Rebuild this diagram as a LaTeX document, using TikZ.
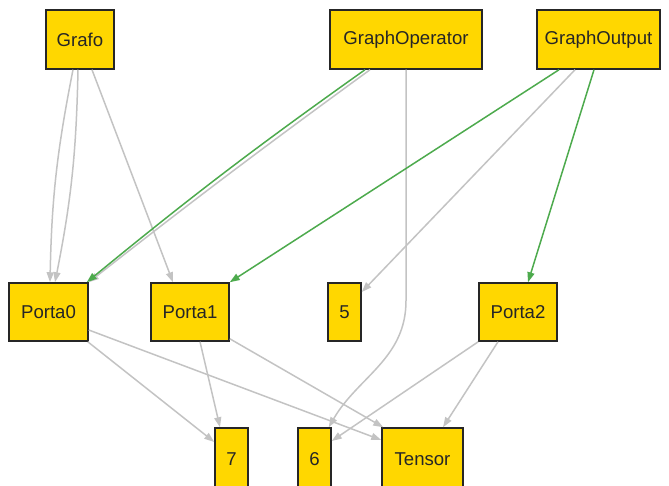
\documentclass[tikz,border=0pt]{standalone}
\usepackage{fontspec}
\setmainfont{Liberation Sans}
\usetikzlibrary{arrows.meta}
\definecolor{boxfill}{HTML}{FFD700}
\definecolor{edgegray}{HTML}{C3C3C3}
\definecolor{edgegreen}{HTML}{4DAA4D}
\definecolor{textdark}{HTML}{262626}
\tikzset{
  box/.style={draw=black!85, line width=1.5pt, fill=boxfill, inner sep=0pt,
    text=textdark, font=\fontsize{18.6}{22}\selectfont},
  greyedge/.style={draw=edgegray, line width=1.5pt,
    -{Triangle[length=10pt,width=7pt,fill=edgegray]}},
  greenedge/.style={draw=edgegreen, line width=1.5pt,
    -{Triangle[length=10pt,width=7pt,fill=edgegreen]}}
}
\begin{document}
\begin{tikzpicture}[x=1pt,y=-1pt]
\useasboundingbox (0,0) rectangle (669,486);
\clip (0,0) rectangle (669,486);
% top row
\node[box, minimum width=68pt, minimum height=59pt] (grafo) at (80,39.5) {Grafo};
\node[box, minimum width=152pt, minimum height=59pt] (gop) at (406,39.5) {GraphOperator};
\node[box, minimum width=123pt, minimum height=59pt] (gout) at (598.5,39.5) {GraphOutput};
% middle row
\node[box, minimum width=79pt, minimum height=58pt] (p0) at (48.5,312) {Porta0};
\node[box, minimum width=78pt, minimum height=58pt] (p1) at (190,312) {Porta1};
\node[box, minimum width=33pt, minimum height=58pt] (five) at (344.5,312) {5};
\node[box, minimum width=78pt, minimum height=58pt] (p2) at (518,312) {Porta2};
% bottom row (cut by the lower edge)
\node[box, minimum width=33pt, minimum height=62pt] (seven) at (231.5,459) {7};
\node[box, minimum width=33pt, minimum height=62pt] (six) at (314.5,459) {6};
\node[box, minimum width=81pt, minimum height=62pt] (tensor) at (422.5,459) {Tensor};
% edges from Grafo
\draw[greyedge] ([xshift=-7pt]grafo.south) to[bend right=5] ([xshift=1.5pt]p0.north);
\draw[greyedge] ([xshift=-2pt]grafo.south) to[bend left=5] ([xshift=6.5pt]p0.north);
\draw[greyedge] ([xshift=12pt]grafo.south) -- ([xshift=-17pt]p1.north);
% edges from GraphOperator
\draw[greyedge] ([xshift=-36pt]gop.south) to[bend right=1] (p0.north east);
\draw[greenedge] ([xshift=-41pt]gop.south) to[bend right=2] ([xshift=-2pt]p0.north east);
\draw[greyedge] (gop.south) -- ++(0,231) to[out=-90,in=60] ([xshift=-3pt]six.north east);
% edges from GraphOutput
\draw[greenedge] ([xshift=-39.5pt]gout.south) -- (p1.north east);
\draw[greyedge] ([xshift=-23.5pt]gout.south) -- ([yshift=20pt]five.east);
\draw[greenedge] ([xshift=-4.5pt]gout.south) -- ([xshift=10pt]p2.north);
% edges from the ports
\draw[greyedge] ([xshift=-1pt]p0.south east) -- ([yshift=17pt]seven.west);
\draw[greyedge] ([yshift=-18pt]p0.east) -- ([yshift=19pt]tensor.west);
\draw[greyedge] ([xshift=10pt]p1.south) -- ([xshift=-11.5pt]seven.north);
\draw[greyedge] ([yshift=3pt]p1.south east) -- ([xshift=2pt]tensor.north west);
\draw[greyedge] (p2.south west) -- ([yshift=18pt]six.east);
\draw[greyedge] ([xshift=-20pt]p2.south) -- ([xshift=20.5pt]tensor.north);
\end{tikzpicture}
\end{document}
